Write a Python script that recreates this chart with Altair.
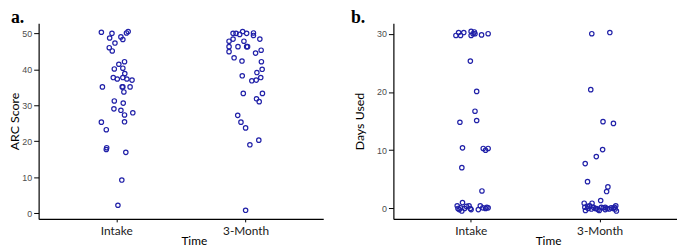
import altair as alt
import pandas as pd

time_labels = ["Intake", "3-Month"]

# Panel a: ARC Score (value, horizontal jitter around the category)
arc_intake_score = [50.3, 50.0, 48.7, 49.0, 48.3, 50.1, 50.5, 47.3, 46.0, 45.1,
                    42.1, 41.4, 40.1, 40.3, 38.8, 37.7, 37.3, 37.7, 37.3, 37.0,
                    35.1, 35.1, 35.1, 35.1, 33.7, 31.2, 30.6, 29.0, 28.6, 27.3,
                    27.9, 25.3, 25.4, 23.2, 18.2, 17.7, 16.9, 9.2, 2.2]
arc_intake_jitter = [-0.115, -0.033, -0.051, 0.036, 0.051, 0.079, 0.092, -0.010, -0.054, -0.031,
                     0.064, 0.020, -0.015, 0.051, 0.066, -0.023, 0.008, 0.051, 0.082, 0.122,
                     -0.107, 0.046, 0.051, 0.107, 0.059, -0.015, 0.054, -0.018, 0.036, 0.064,
                     0.128, -0.115, 0.064, -0.077, -0.074, -0.077, 0.074, 0.043, 0.013]
arc_3m_score = [50.0, 50.0, 49.7, 50.5, 50.0, 50.1, 49.4, 48.4, 47.8, 48.4,
                47.8, 46.3, 44.9, 46.3, 46.3, 46.3, 44.5, 45.3, 43.2, 42.3,
                42.1, 40.0, 39.1, 38.2, 36.8, 37.0, 37.7, 33.3, 33.3, 31.8,
                31.0, 27.2, 25.3, 23.7, 20.3, 19.0, 0.8]
arc_3m_jitter = [-0.097, -0.074, -0.046, -0.023, 0.008, 0.061, 0.061, 0.110, -0.128, -0.097,
                 -0.013, -0.128, -0.128, -0.059, 0.008, 0.015, 0.077, 0.120, -0.089, -0.028,
                 0.122, 0.128, 0.087, -0.026, 0.048, 0.082, 0.117, -0.018, 0.130, 0.084,
                 0.105, -0.061, -0.036, 0.0, 0.102, 0.033, 0.0]

# Panel b: Days Used
days_intake = [29.7, 30.2, 29.7, 30.2, 30.4, 29.7, 30.0, 30.3, 30.0, 29.8,
               30.0, 25.3, 20.1, 16.7, 15.1, 14.8, 10.4, 10.3, 10.0, 10.3,
               7.0, 3.0,
               0.45, 0.0, -0.2, 0.1, -0.45, 1.0, 0.0, 0.35, 0.45, 0.0,
               -0.2, -0.2, 0.45, 0.1, 0.0, 0.2, 0.1]
days_intake_jitter = [-0.115, -0.094, -0.079, -0.054, 0.003, 0.003, 0.018, 0.028, 0.033, 0.084,
                      0.135, -0.003, 0.046, 0.033, 0.046, -0.084, -0.064, 0.097, 0.115, 0.135,
                      -0.069, 0.087,
                      -0.105, -0.099, -0.089, -0.079, -0.069, -0.064, -0.048, -0.033, -0.013, -0.003,
                      0.003, 0.059, 0.074, 0.094, 0.115, 0.125, 0.135]
days_3m = [30.0, 30.2, 20.4, 14.9, 14.6, 10.1, 8.9, 7.7, 4.6, 3.7,
           2.9, 1.35,
           0.9, 0.2, -0.35, 0.0, 0.45, 0.9, 0.2, 0.0, -0.2, -0.35,
           0.2, 0.1, -0.2, 0.0, -0.1, 0.1, 0.0, 0.2, -0.1, -0.45,
           0.45, 0.0, -0.1, 0.35, 0.2]
days_3m_jitter = [-0.061, 0.079, -0.069, 0.026, 0.107, 0.023, -0.026, -0.112, -0.094, 0.064,
                  0.054, 0.008,
                  -0.120, -0.115, -0.110, -0.089, -0.077, -0.059, -0.048, -0.033, -0.013, -0.003,
                  0.013, 0.028, 0.043, 0.059, 0.074, 0.089, 0.105, 0.115, 0.120, 0.130,
                  0.125, -0.023, -0.064, -0.094, 0.043]


def make_df(groups):
    rows = []
    for idx, (vals, jit) in enumerate(groups, start=1):
        for v, j in zip(vals, jit):
            rows.append({"t": idx + j, "v": v, "group": time_labels[idx - 1]})
    return pd.DataFrame(rows)


df_a = make_df([(arc_intake_score, arc_intake_jitter), (arc_3m_score, arc_3m_jitter)])
df_b = make_df([(days_intake, days_intake_jitter), (days_3m, days_3m_jitter)])

label_expr = f"datum.value == 1 ? '{time_labels[0]}' : '{time_labels[1]}'"
POINT = "#2020a8"


def panel(df, ytitle, ydomain, yticks, letter, dx, width, ytitle_pad):
    return alt.Chart(df).mark_point(
        shape="circle", filled=False, color=POINT, size=20, strokeWidth=1.2, opacity=1
    ).encode(
        x=alt.X("t:Q",
                scale=alt.Scale(domain=[0.4, 2.6], nice=False, zero=False),
                axis=alt.Axis(values=[1, 2], labelExpr=label_expr, title="Time",
                              grid=False, domainColor="black", domainWidth=1.2,
                              tickColor="black", tickSize=3, labelPadding=4,
                              labelFont="Lato", labelFontSize=12, labelColor="#1a1a1a",
                              titleFont="Lato", titleFontSize=12, titleFontWeight="normal",
                              titleColor="black", titlePadding=-1, titleX=width / 2 + 13)),
        y=alt.Y("v:Q",
                scale=alt.Scale(domain=ydomain, nice=False, zero=False),
                axis=alt.Axis(values=yticks, title=ytitle, grid=False,
                              domainColor="black", domainWidth=1.2,
                              tickColor="black", tickSize=5, labelPadding=2,
                              labelFont="Liberation Sans", labelFontSize=9, labelColor="#4d4d4d",
                              titleFont="Lato", titleFontSize=12.5, titleFontWeight="normal",
                              titleColor="black", titlePadding=ytitle_pad)),
    ).properties(
        width=width, height=198,
        title=alt.TitleParams(letter, anchor="start", frame="group", dx=dx, offset=-4,
                              font="Liberation Serif", fontSize=18, fontWeight="bold",
                              color="black"),
    )


chart_a = panel(df_a, "ARC Score", [-1.6, 52.8], [0, 10, 20, 30, 40, 50], "a.", -28, 288, 0)
chart_b = panel(df_b, "Days Used", [-1.8, 31.8], [0, 10, 20, 30], "b.", -43, 287, 10)

chart = alt.hconcat(chart_a, chart_b, spacing=28).properties(padding=0).configure_view(stroke=None)

chart.save("out.html", embed_options={"renderer": "svg", "actions": False})
